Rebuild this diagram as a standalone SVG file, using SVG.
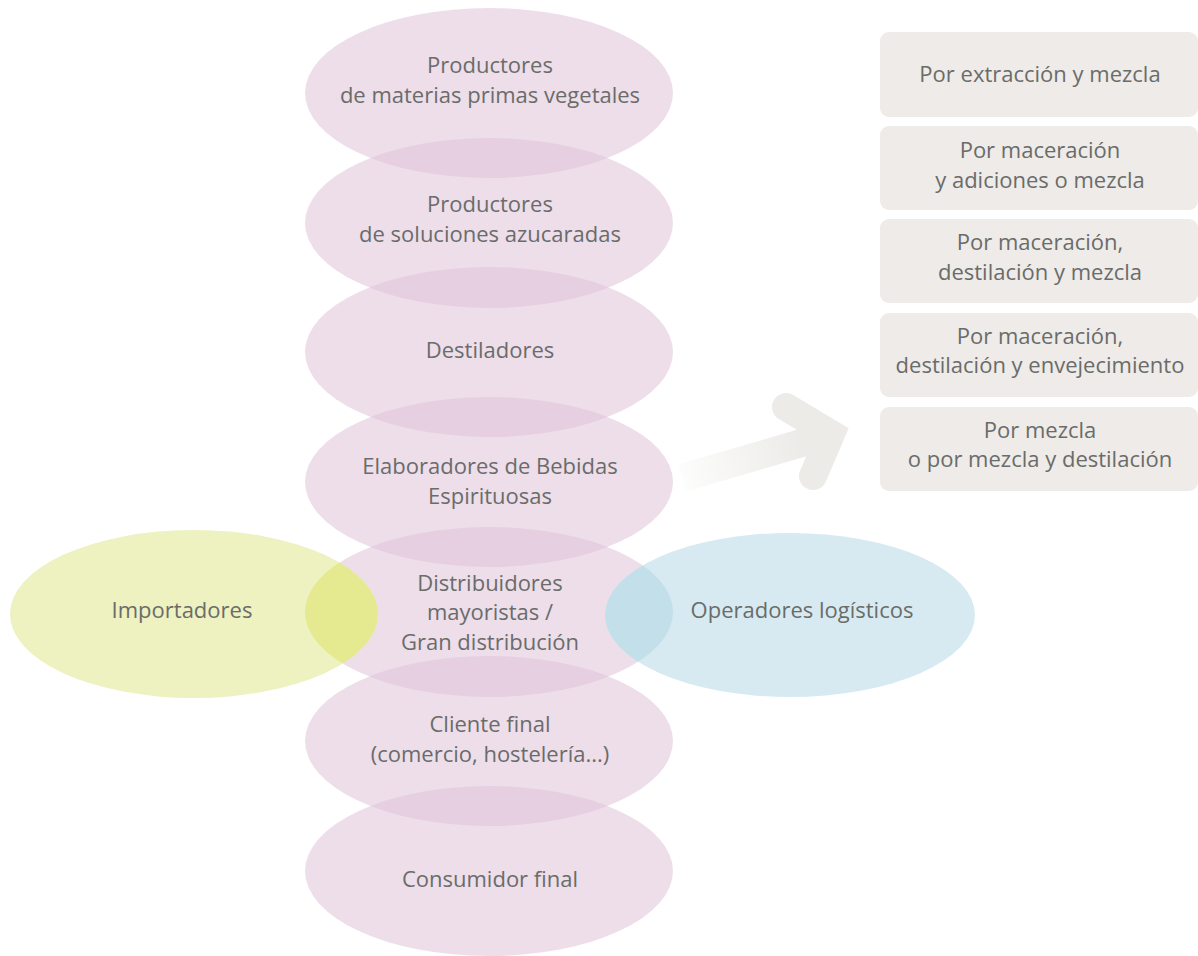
<svg xmlns="http://www.w3.org/2000/svg" width="1198" height="956" viewBox="0 0 1198 956">
<style>
.pe{fill:#dfc3d8;opacity:0.55}
.t{font-family:"Open Sans","Noto Sans",sans-serif;font-size:22px;fill:#6a6c6a;text-anchor:middle}
.box{fill:#eeebe8}
</style>
<defs>
<linearGradient id="ag" gradientUnits="userSpaceOnUse" x1="680" y1="478" x2="800" y2="442">
<stop offset="0" stop-color="#ecebe8" stop-opacity="0.1"/>
<stop offset="1" stop-color="#ecebe8" stop-opacity="1"/>
</linearGradient>
<clipPath id="c5"><ellipse cx="489" cy="612" rx="184" ry="85"/></clipPath>
</defs>
<rect width="1198" height="956" fill="#ffffff"/>
<g id="connectors">
<path d="M682,478 L826,436" stroke="url(#ag)" stroke-width="28" fill="none"/>
<path d="M786,407 L831,434 L813,476" stroke="#ecebe8" stroke-width="28" fill="none" stroke-linecap="round" stroke-linejoin="miter"/>
</g>
<g id="n1"><ellipse class="pe" cx="489" cy="93" rx="184" ry="85"/></g>
<g id="n2"><ellipse class="pe" cx="489" cy="223" rx="184" ry="85"/></g>
<g id="n3"><ellipse class="pe" cx="489" cy="352" rx="184" ry="85"/></g>
<g id="n4"><ellipse class="pe" cx="489" cy="482" rx="184" ry="85"/></g>
<g id="n5"><ellipse class="pe" cx="489" cy="612" rx="184" ry="85"/></g>
<g id="n6"><ellipse class="pe" cx="489" cy="741" rx="184" ry="85"/></g>
<g id="n7"><ellipse class="pe" cx="489" cy="871" rx="184" ry="85"/></g>
<g id="importadores">
<ellipse cx="194" cy="614" rx="184" ry="84" fill="#eef1c0"/>
<ellipse cx="194" cy="614" rx="184" ry="84" fill="#e5e98f" clip-path="url(#c5)"/>
<text class="t" x="182" y="618">Importadores</text>
</g>
<g id="operadores">
<ellipse cx="790" cy="615" rx="185" ry="82" fill="#d7eaf1"/>
<ellipse cx="790" cy="615" rx="185" ry="82" fill="#c3dfe9" clip-path="url(#c5)"/>
<text class="t" x="802" y="618">Operadores logísticos</text>
</g>
<g id="labels">
<text class="t" x="490" y="73">Productores</text>
<text class="t" x="490" y="103">de materias primas vegetales</text>
<text class="t" x="490" y="212">Productores</text>
<text class="t" x="490" y="242">de soluciones azucaradas</text>
<text class="t" x="490" y="358">Destiladores</text>
<text class="t" x="490" y="474">Elaboradores de Bebidas</text>
<text class="t" x="490" y="504">Espirituosas</text>
<text class="t" x="490" y="591">Distribuidores</text>
<text class="t" x="490" y="620">mayoristas /</text>
<text class="t" x="490" y="650">Gran distribución</text>
<text class="t" x="490" y="732">Cliente final</text>
<text class="t" x="490" y="762">(comercio, hostelería...)</text>
<text class="t" x="490" y="887">Consumidor final</text>
</g>
<g id="b1"><rect class="box" x="880" y="32" width="318" height="85" rx="9"/><text class="t" x="1040" y="82">Por extracción y mezcla</text></g>
<g id="b2"><rect class="box" x="880" y="126" width="318" height="84" rx="9"/><text class="t" x="1040" y="158">Por maceración</text><text class="t" x="1040" y="188">y adiciones o mezcla</text></g>
<g id="b3"><rect class="box" x="880" y="219" width="318" height="84" rx="9"/><text class="t" x="1040" y="250">Por maceración,</text><text class="t" x="1040" y="280">destilación y mezcla</text></g>
<g id="b4"><rect class="box" x="880" y="313" width="318" height="84" rx="9"/><text class="t" x="1040" y="344">Por maceración,</text><text class="t" x="1040" y="373">destilación y envejecimiento</text></g>
<g id="b5"><rect class="box" x="880" y="407" width="318" height="84" rx="9"/><text class="t" x="1040" y="438">Por mezcla</text><text class="t" x="1040" y="467">o por mezcla y destilación</text></g>
</svg>
